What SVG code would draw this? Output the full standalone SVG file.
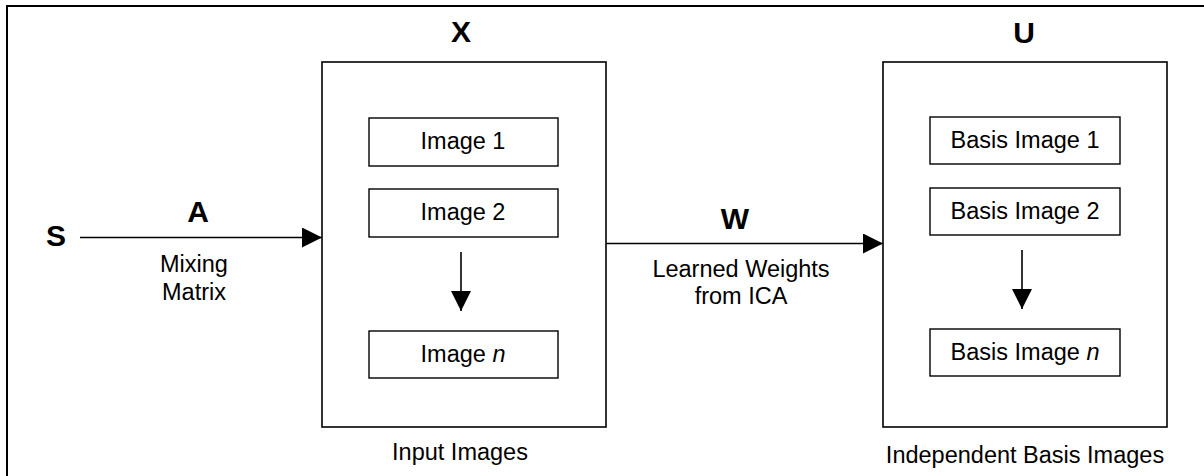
<svg xmlns="http://www.w3.org/2000/svg" width="1204" height="476" viewBox="0 0 1204 476">
  <style>
    .frame { fill: #ffffff; stroke: #000000; stroke-width: 2; }
    .box { fill: #ffffff; stroke: #000000; stroke-width: 1.6; }
    .item { fill: #ffffff; stroke: #000000; stroke-width: 1.4; }
    .wire { fill: none; stroke: #000000; stroke-width: 1.6; }
    .t { font-family: "Liberation Sans", Arial, sans-serif; font-size: 23.5px; fill: #000000; text-anchor: middle; }
    .sym { font-family: "Liberation Sans", Arial, sans-serif; font-size: 30px; font-weight: bold; fill: #000000; text-anchor: middle; }
  </style>
  <defs>
    <marker id="head" viewBox="0 0 20 20" refX="20" refY="10" markerWidth="20" markerHeight="20" markerUnits="userSpaceOnUse" orient="auto">
      <path d="M0,0 L20,10 L0,20 Z" fill="#000000"/>
    </marker>
  </defs>

  <rect width="1204" height="476" fill="#ffffff"/>
  <!-- outer frame, open past the right and bottom edges -->
  <rect class="frame" x="7" y="6" width="1210" height="480"/>

  <!-- source S -->
  <g id="source">
    <text class="sym" x="56" y="246">S</text>
  </g>

  <!-- input images X -->
  <g id="input-images">
    <text class="sym" x="461" y="42">X</text>
    <rect class="box" x="322" y="62" width="284" height="365"/>
    <rect class="item" x="369" y="118" width="189" height="48"/>
    <text class="t" x="463" y="149">Image 1</text>
    <rect class="item" x="369" y="189" width="189" height="48"/>
    <text class="t" x="463" y="220">Image 2</text>
    <rect class="item" x="369" y="331" width="189" height="47"/>
    <text class="t" x="463" y="362">Image <tspan font-style="italic">n</tspan></text>
    <line class="wire" x1="461" y1="252" x2="461" y2="311" marker-end="url(#head)"/>
    <text class="t" x="460" y="460">Input Images</text>
  </g>

  <!-- independent basis images U -->
  <g id="basis-images">
    <text class="sym" x="1024" y="43">U</text>
    <rect class="box" x="883" y="62" width="284" height="365"/>
    <rect class="item" x="930" y="117" width="190" height="47"/>
    <text class="t" x="1025" y="148">Basis Image 1</text>
    <rect class="item" x="930" y="188" width="190" height="47"/>
    <text class="t" x="1025" y="219">Basis Image 2</text>
    <rect class="item" x="930" y="329" width="190" height="47"/>
    <text class="t" x="1025" y="360">Basis Image <tspan font-style="italic">n</tspan></text>
    <line class="wire" x1="1022" y1="250" x2="1022" y2="309" marker-end="url(#head)"/>
    <text class="t" x="1025" y="463">Independent Basis Images</text>
  </g>

  <!-- connectors -->
  <g id="connectors">
    <line class="wire" x1="80" y1="237.5" x2="322" y2="237.5" marker-end="url(#head)"/>
    <text class="sym" x="198" y="222">A</text>
    <text class="t" x="194" y="272">Mixing</text>
    <text class="t" x="194" y="300">Matrix</text>

    <line class="wire" x1="606" y1="243.5" x2="883" y2="243.5" marker-end="url(#head)"/>
    <text class="sym" x="735" y="229">W</text>
    <text class="t" x="741" y="277">Learned Weights</text>
    <text class="t" x="741" y="304">from ICA</text>
  </g>
</svg>
